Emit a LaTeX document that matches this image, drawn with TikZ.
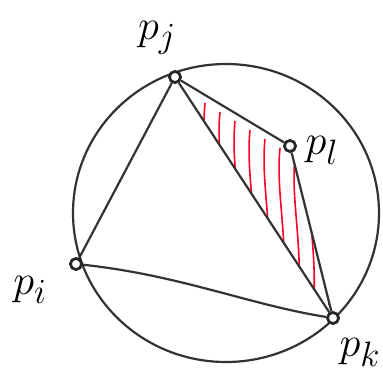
\documentclass[tikz,border=0pt]{standalone}
\begin{document}
\begin{tikzpicture}[x=1pt,y=-1pt,
  pt/.style={circle,draw=black!85,line width=2.6pt,inner sep=0pt,minimum size=11pt,fill=white},
  edge/.style={draw=black!80,line width=2.2pt},
  hatch/.style={draw=red!85!magenta,line width=1.6pt},
  lbl/.style={font=\Huge}]
\useasboundingbox (0,0) rectangle (383,381);
\node[pt] (pj) at (175,77) {};
\node[pt] (pl) at (290,146) {};
\node[pt] (pi) at (76,264) {};
\node[pt] (pk) at (333,318) {};
% hatching
\begin{scope}
\clip (pj.center) -- (pl.center) -- (pk.center) -- cycle;
\foreach \x in {205,220,...,325}{
  \draw[hatch] (\x,0.6*\x-20) .. controls (\x-4,0.6*\x+20) and (\x+6,0.6*\x+60) .. (\x+4,0.6*\x+110);
}
\end{scope}
\draw[edge] (226,213) circle [x radius=153, y radius=149];
\draw[edge] (pj) -- (pi);
\draw[edge] (pi) .. controls (180,275) and (250,305) .. (pk);
\draw[edge] (pj) -- (pl);
\draw[edge] (pl) -- (pk);
\draw[edge] (pj) -- (pk);
\node[pt] at (pj) {};
\node[pt] at (pl) {};
\node[pt] at (pi) {};
\node[pt] at (pk) {};
\node[lbl] (lj) at (157,38) {\scalebox{1.7}{$p_j$}};
\node[lbl] (ll) at (322,150) {\scalebox{1.7}{$p_l$}};
\node[lbl] (li) at (30,290) {\scalebox{1.7}{$p_i$}};
\node[lbl] (lk) at (360,352) {\scalebox{1.7}{$p_k$}};
\end{tikzpicture}
\end{document}
